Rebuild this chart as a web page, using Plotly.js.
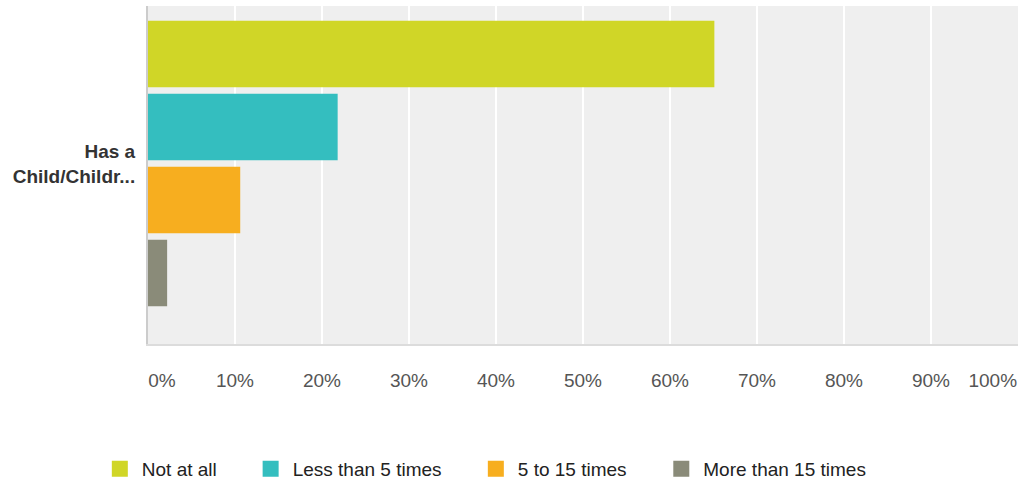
<!DOCTYPE html>
<html>
<head>
<meta charset="utf-8">
<script src="https://cdn.plot.ly/plotly-3.0.1.min.js"></script>
<style>html,body{margin:0;padding:0;background:#fff;}#chart{width:1019px;height:487px;}</style>
</head>
<body>
<div id="chart"></div>
<script>
const categories = ["Has a<br>Child/Childr..."];
const seriesNames = ["Not at all", "Less than 5 times", "5 to 15 times", "More than 15 times"];
const seriesValues = [[65.1], [21.8], [10.6], [2.2]];
const seriesColors = ["#d0d627", "#34bebf", "#f7ae1f", "#8a8b79"];
const tickValues = [0, 10, 20, 30, 40, 50, 60, 70, 80, 90, 100];
const tickLabels = ["0%", "10%", "20%", "30%", "40%", "50%", "60%", "70%", "80%", "90%", "100%"];
const labelValues = [1.6, 10, 20, 30, 40, 50, 60, 70, 80, 90, 97.1];
const legendIds = ["legend", "legend2", "legend3", "legend4"];
const legendX = [0.096, 0.244, 0.465, 0.647];

const traces = [];
seriesNames.forEach((name, i) => {
  traces.push({
    type: "bar",
    orientation: "h",
    name: name,
    legendgroup: name,
    showlegend: false,
    x: seriesValues[i],
    y: categories,
    marker: {color: seriesColors[i]},
    hoverinfo: "skip"
  });
});
// legend-only entries with larger square swatches
seriesNames.forEach((name, i) => {
  traces.push({
    type: "scatter",
    mode: "markers",
    name: name,
    legendgroup: name,
    legend: legendIds[i],
    x: [null], y: [null],
    marker: {color: seriesColors[i], symbol: "square", size: 16},
    hoverinfo: "skip"
  });
});
// invisible trace to carry the label axis
traces.push({type: "scatter", x: [0], y: categories, xaxis: "x2", mode: "markers",
  marker: {opacity: 0}, showlegend: false, hoverinfo: "skip"});

const layout = {
  width: 1019, height: 487,
  margin: {l: 148, r: 1, t: 6, b: 143},
  paper_bgcolor: "#ffffff",
  plot_bgcolor: "#efefef",
  font: {family: "Liberation Sans, Arial, sans-serif", color: "#555"},
  barmode: "group",
  bargap: 0.136,
  bargroupgap: 0.092,
  showlegend: true,
  xaxis: {
    range: [0, 100],
    tickvals: tickValues,
    showticklabels: false,
    showgrid: true, gridcolor: "#ffffff", gridwidth: 2,
    zeroline: false,
    showline: true, linecolor: "#dcdcdc", linewidth: 2,
    fixedrange: true
  },
  xaxis2: {
    overlaying: "x",
    side: "bottom",
    range: [0, 100],
    tickvals: labelValues,
    ticktext: tickLabels,
    showgrid: false, zeroline: false, showline: false,
    ticks: "outside", ticklen: 19, tickcolor: "rgba(0,0,0,0)",
    tickfont: {size: 19, color: "#555"},
    fixedrange: true
  },
  yaxis: {
    type: "category",
    range: [0.534, -0.466],
    showgrid: false, zeroline: false,
    showline: true, linecolor: "#cccccc", linewidth: 2,
    ticks: "outside", ticklen: 7, tickcolor: "rgba(0,0,0,0)",
    tickfont: {size: 19, color: "#333", weight: "bold"},
    fixedrange: true
  }
};
legendIds.forEach((id, i) => {
  layout[id] = {
    orientation: "h",
    xref: "container", yref: "container",
    x: legendX[i], y: 0.037, xanchor: "left", yanchor: "middle",
    font: {size: 19, color: "#222"},
    itemwidth: 34,
    bgcolor: "rgba(0,0,0,0)"
  };
});

Plotly.newPlot("chart", traces, layout, {displayModeBar: false, staticPlot: true});
</script>
</body>
</html>
